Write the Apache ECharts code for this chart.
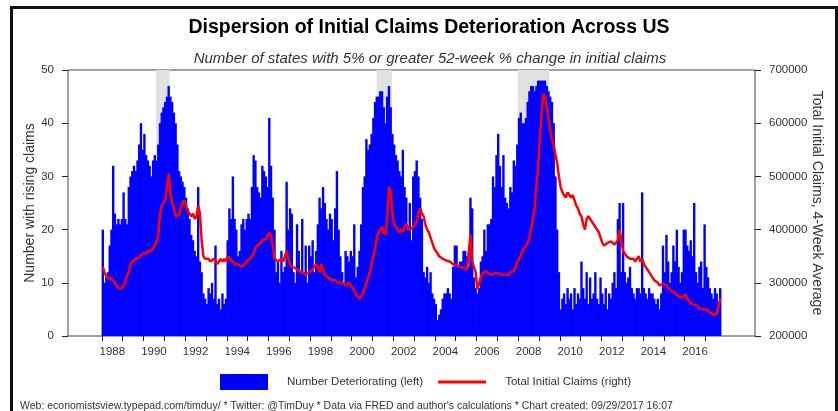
<!DOCTYPE html>
<html>
<head>
<meta charset="utf-8">
<script src="https://cdn.jsdelivr.net/npm/echarts@6/dist/echarts.min.js"></script>
<style>
  html, body { margin: 0; padding: 0; background: #fff; overflow: hidden; }
  #frame { position: absolute; left: 10px; top: 6px; width: 822px; height: 420px; border: 3px solid #111; box-sizing: content-box; }
  #chart { position: absolute; left: 0; top: 0; width: 838px; height: 411px; }
</style>
</head>
<body>
<div id="frame"></div>
<div id="chart"></div>
<script>
// monthly readings, Jan 1988 .. Sep 2017
const startYear = 1988;

// number of states with >=5% 52-week change in initial claims
const states = [
  20, 10, 11, 12, 17, 20, 32, 23, 21, 22, 21, 22,   // 1988
  27, 22, 21, 28, 30, 31, 32, 31, 33, 36, 40, 35,   // 1989
  38, 34, 33, 32, 30, 33, 34, 33, 36, 40, 42, 43,   // 1990
  44, 45, 47, 45, 44, 42, 40, 36, 31, 30, 29, 28,   // 1991
  26, 24, 22, 19, 18, 16, 15, 28, 14, 12, 8, 7,     // 1992
  6, 9, 8, 10, 7, 17, 6, 7, 5, 8, 6, 7,             // 1993
  18, 24, 22, 30, 22, 20, 15, 16, 21, 22, 20, 22,   // 1994
  23, 22, 28, 34, 33, 28, 27, 26, 32, 31, 30, 28,   // 1995
  41, 32, 26, 20, 12, 14, 10, 16, 12, 13, 29, 20,   // 1996
  24, 23, 12, 10, 21, 16, 12, 22, 12, 17, 10, 17,   // 1997
  15, 18, 12, 16, 21, 26, 24, 28, 25, 22, 20, 23,   // 1998
  22, 18, 24, 31, 20, 15, 12, 10, 16, 15, 14, 16,   // 1999
  15, 21, 11, 13, 16, 21, 28, 30, 37, 35, 36, 38,   // 2000
  41, 44, 45, 45, 46, 46, 43, 40, 45, 47, 43, 38,   // 2001
  36, 34, 33, 31, 30, 35, 28, 26, 20, 25, 18, 30,   // 2002
  31, 33, 30, 26, 22, 12, 11, 13, 10, 12, 8, 7,     // 2003
  6, 3, 4, 5, 7, 8, 8, 9, 8, 7, 13, 17,             // 2004
  17, 13, 14, 14, 16, 16, 15, 13, 26, 24, 11, 9,    // 2005
  8, 9, 14, 15, 20, 16, 21, 21, 22, 30, 28, 34,     // 2006
  38, 32, 28, 34, 26, 25, 24, 28, 27, 33, 32, 36,   // 2007
  41, 42, 40, 40, 41, 44, 46, 47, 47, 46, 47, 48,   // 2008
  48, 48, 48, 48, 47, 46, 45, 44, 40, 30, 20, 12,   // 2009
  5, 7, 8, 6, 9, 7, 8, 5, 9, 6, 8, 7,               // 2010
  14, 9, 7, 12, 6, 11, 7, 8, 12, 7, 6, 11,          // 2011
  8, 6, 9, 5, 8, 7, 10, 12, 9, 22, 25, 12,          // 2012
  25, 12, 10, 11, 13, 9, 8, 7, 9, 9, 8, 27,         // 2013
  9, 8, 7, 9, 8, 8, 7, 6, 7, 5, 8, 17,              // 2014
  12, 19, 14, 10, 12, 17, 14, 20, 13, 10, 12, 20,   // 2015
  20, 17, 16, 18, 15, 25, 12, 10, 13, 14, 9, 21,    // 2016
  13, 11, 9, 8, 7, 9, 8, 6, 9                       // 2017
];

// total initial claims, 4-week average (thousands)
const claims = [
  330, 320, 312, 308, 306, 308, 305, 300, 295, 290, 288, 290,
  292, 300, 315, 320, 335, 340, 342, 345, 345, 348, 350, 355,
  358, 355, 360, 362, 360, 365, 370, 378, 390, 430, 445, 450,
  455, 480, 505, 470, 450, 440, 425, 425, 428, 440, 450, 455,
  445, 435, 430, 425, 430, 420, 425, 445, 430, 380, 350, 345,
  345, 345, 340, 340, 345, 340, 335, 340, 345, 340, 345, 340,
  350, 345, 345, 340, 335, 335, 335, 335, 330, 330, 335, 340,
  340, 345, 350, 355, 365, 370, 370, 375, 380, 378, 382, 385,
  395, 390, 370, 345, 343, 340, 342, 345, 340, 350, 360, 345,
  335, 330, 330, 328, 325, 322, 320, 320, 318, 315, 318, 320,
  320, 325, 330, 335, 330, 320, 335, 325, 315, 315, 310, 310,
  305, 305, 305, 302, 300, 300, 300, 298, 295, 295, 300, 295,
  290, 285, 278, 275, 270, 268, 280, 290, 300, 310, 320, 335,
  350, 365, 385, 395, 400, 405, 395, 390, 420, 480, 470, 430,
  410, 405, 400, 395, 400, 395, 405, 410, 405, 400, 400, 405,
  405, 415, 430, 440, 430, 425, 410, 400, 395, 385, 375, 365,
  360, 355, 350, 348, 345, 343, 342, 340, 340, 338, 335, 335,
  333, 330, 330, 328, 328, 327, 325, 325, 390, 340, 330, 320,
  288, 285, 310, 318, 320, 322, 318, 320, 315, 312, 318, 320,
  318, 315, 315, 318, 315, 313, 315, 320, 318, 322, 330, 340,
  345, 350, 360, 365, 370, 375, 385, 400, 420, 440, 480, 520,
  570, 620, 655, 650, 630, 610, 585, 570, 560, 540, 525, 500,
  480, 470, 465, 460, 470, 465, 460, 465, 455, 445, 440, 430,
  425, 410, 400, 420, 425, 420, 415, 410, 405, 400, 395, 385,
  375, 370, 372, 375, 378, 378, 375, 372, 375, 380, 400, 380,
  360, 355, 350, 350, 345, 345, 345, 340, 338, 350, 340, 345,
  335, 330, 325, 320, 315, 312, 305, 302, 300, 295, 295, 298,
  300, 295, 290, 288, 285, 282, 280, 278, 275, 275, 272, 275,
  278, 270, 265, 262, 260, 258, 258, 255, 252, 252, 250, 252,
  250, 248, 245, 242, 240, 240, 242, 245, 270
];

// NBER recessions (fractional years)
const recessionStart = [1990.6, 2001.2, 2007.98];
const recessionEnd = [1991.25, 2001.93, 2009.5];

const tickYears = [];
for (let y = 1988; y <= 2017; y++) tickYears.push(y);
const labelYears = tickYears.filter(y => y % 2 === 0);

const font = 'Liberation Sans, Arial, sans-serif';
const monthX = i => startYear + (i + 0.5) / 12;

const chart = echarts.init(document.getElementById('chart'));

chart.setOption({
  animation: false,
  textStyle: { fontFamily: font },
  title: [{
    text: 'Dispersion of Initial Claims Deterioration Across US',
    left: 424, top: 13, textAlign: 'center',
    textStyle: { fontSize: 19.5, fontWeight: 'bold', color: '#000', fontFamily: font }
  }, {
    text: 'Number of states with 5% or greater 52-week % change in initial claims',
    left: 425, top: 46, textAlign: 'center',
    textStyle: { fontSize: 15, fontWeight: 'normal', fontStyle: 'italic', color: '#333', fontFamily: font }
  }, {
    text: "Web: economistsview.typepad.com/timduy/ * Twitter: @TimDuy * Data via FRED and author's calculations * Chart created: 09/29/2017 16:07",
    left: 15, top: 396,
    textStyle: { fontSize: 10.5, fontWeight: 'normal', color: '#333', fontFamily: font }
  }],
  legend: {
    left: 215, top: 369,
    itemWidth: 48, itemHeight: 16, itemGap: 15,
    data: [
      { name: 'Number Deteriorating (left)', icon: 'rect' },
      { name: 'Total Initial Claims (right)', icon: 'path://M0,0 L48,0 L48,3 L0,3 Z' }
    ],
    textStyle: { fontSize: 11.5, color: '#333', padding: [0, 0, 0, 14] }
  },
  grid: {
    left: 68, right: 83, top: 70, bottom: 75,
    show: true, borderColor: '#444', borderWidth: 1
  },
  xAxis: {
    type: 'value', min: 1986.37, max: 2019.38,
    splitLine: { show: false },
    axisLine: { show: false },
    axisTick: { show: true, customValues: tickYears, length: 5, lineStyle: { color: '#222' } },
    axisLabel: {
      customValues: labelYears.map(y => y + 0.5),
      formatter: v => String(Math.floor(v)),
      fontSize: 11.5, color: '#333', margin: 10
    }
  },
  yAxis: [{
    type: 'value', min: 0, max: 50, interval: 10,
    name: 'Number with rising claims', nameLocation: 'middle', nameGap: 31,
    nameMoveOverlap: false,
    nameTextStyle: { fontSize: 14, color: '#333' },
    splitLine: { show: false },
    axisLine: { show: false },
    axisTick: { show: true, length: 6, lineStyle: { color: '#222' } },
    axisLabel: { fontSize: 11.5, color: '#333', margin: 14 }
  }, {
    type: 'value', min: 200000, max: 700000, interval: 100000,
    position: 'right',
    name: 'Total Initial Claims, 4-Week Average', nameLocation: 'middle', nameGap: 55,
    nameMoveOverlap: false,
    nameRotate: -90,
    nameTextStyle: { fontSize: 14, color: '#333' },
    splitLine: { show: false },
    axisLine: { show: false },
    axisTick: { show: true, length: 6, lineStyle: { color: '#222' } },
    axisLabel: { fontSize: 11.5, color: '#333', margin: 14, formatter: v => String(v) }
  }],
  series: [{
    name: 'recessions',
    type: 'line',
    data: [],
    z: 1,
    markArea: {
      silent: true,
      itemStyle: { color: '#e1e1e1' },
      data: recessionStart.map((s, i) => [{ xAxis: s }, { xAxis: recessionEnd[i] }])
    }
  }, {
    name: 'Number Deteriorating (left)',
    type: 'bar',
    z: 2,
    barWidth: 2.4,
    itemStyle: { color: '#0000ff' },
    data: states.map((v, i) => [monthX(i), v])
  }, {
    name: 'Total Initial Claims (right)',
    type: 'line',
    yAxisIndex: 1,
    z: 3,
    symbol: 'none',
    color: '#ff0000',
    lineStyle: { color: '#ff0000', width: 2.5 },
    data: claims.map((v, i) => [monthX(i), v * 1000])
  }]
});
</script>
</body>
</html>
